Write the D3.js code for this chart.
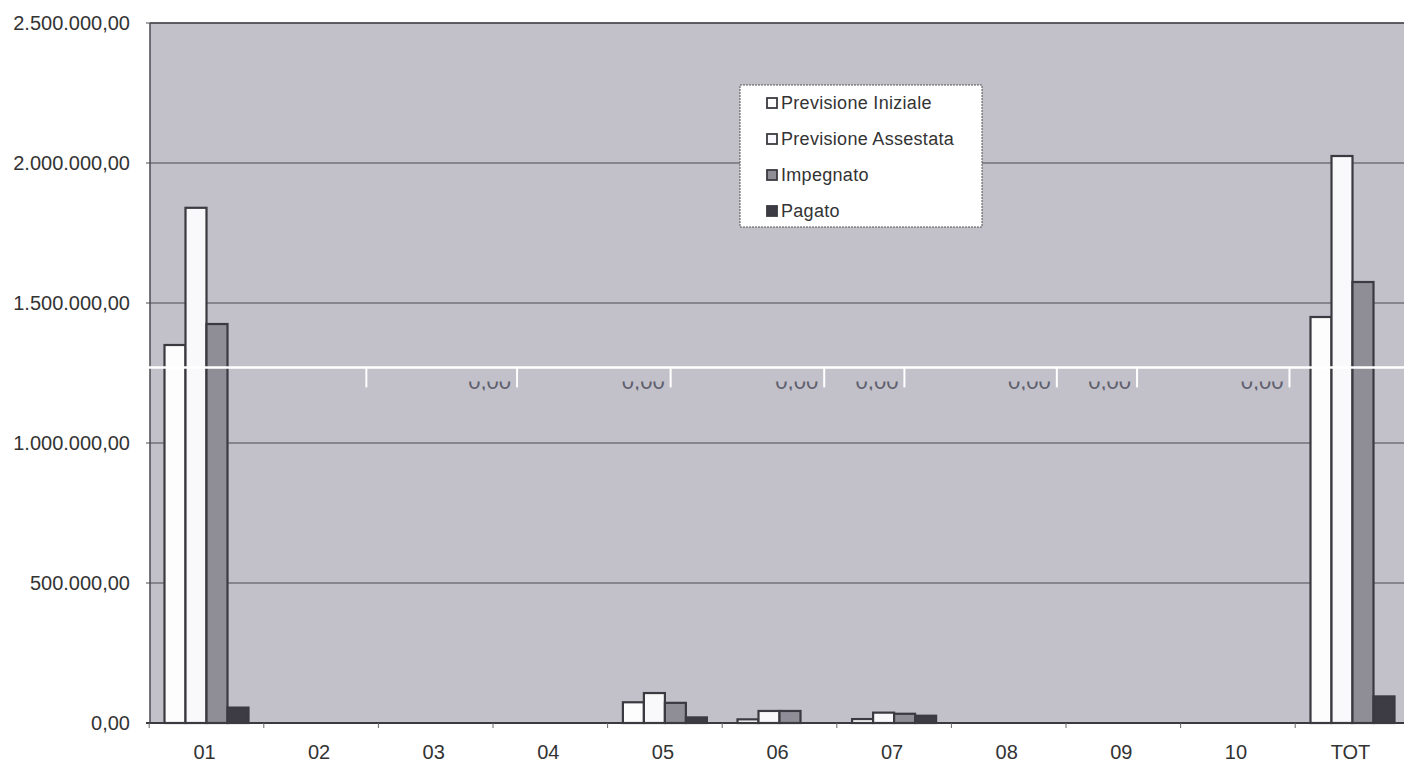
<!DOCTYPE html>
<html>
<head>
<meta charset="utf-8">
<script src="https://cdn.jsdelivr.net/npm/d3@7"></script>
<style>
  html, body { margin: 0; padding: 0; background: #ffffff; }
  svg { display: block; font-family: "Liberation Sans", Arial, sans-serif; }
</style>
</head>
<body>
<svg id="chart" width="1404" height="766"></svg>
<script>
// ---- data ----
const categories = ["01", "02", "03", "04", "05", "06", "07", "08", "09", "10", "TOT"];
const seriesNames = ["Previsione Iniziale", "Previsione Assestata", "Impegnato", "Pagato"];
const previsioneIniziale  = [1350000, 0, 0, 0, 74000, 13000, 14000, 0, 0, 0, 1450000];
const previsioneAssestata = [1840000, 0, 0, 0, 107000, 43000, 37000, 0, 0, 0, 2025000];
const impegnato           = [1425000, 0, 0, 0, 72000, 43000, 33000, 0, 0, 0, 1575000];
const pagato              = [55000, 0, 0, 0, 20000, 0, 26000, 0, 0, 0, 95000];
const yTicks = [0, 500000, 1000000, 1500000, 2000000, 2500000];
// scan artefact (white rule with ticks), positions in category steps
const overlayValue = 1270000;
const overlayTickSteps = [1.895, 3.21, 4.55, 5.89, 6.59, 7.92, 8.62, 9.95];

(function () {
const seriesValues = [previsioneIniziale, previsioneAssestata, impegnato, pagato];
const fills = ["#fdfdfd", "#f9f9fb", "#8f8e97", "#3d3c45"];

const svg = d3.select("#chart");
const pL = 150, pR = 1410, pT = 23, pB = 723;

const x0 = d3.scaleBand().domain(categories).range([149.2, 1409.8])
  .paddingInner(0.267).paddingOuter(0.1335);
const x1 = d3.scaleBand().domain(seriesNames).range([0, x0.bandwidth()]);
const y = d3.scaleLinear().domain([0, 2500000]).range([pB, pT]);

const it = d3.formatLocale({decimal: ",", thousands: ".", grouping: [3], currency: ["", "€"]});
const fmt = it.format(",.2f");

// plot background
svg.append("rect").attr("x", pL).attr("y", pT)
  .attr("width", pR - pL).attr("height", pB - pT)
  .attr("fill", "#c2c1ca");

// gridlines
svg.append("g").selectAll("line").data(yTicks.filter(d => d > 0)).join("line")
  .attr("x1", pL - 4).attr("x2", pR)
  .attr("y1", d => y(d)).attr("y2", d => y(d))
  .attr("stroke", "#4a4a50").attr("stroke-width", 1.2);

// y axis labels
svg.append("g").selectAll("text").data(yTicks).join("text")
  .attr("x", 130).attr("y", d => y(d))
  .attr("dy", "0.36em")
  .attr("text-anchor", "end")
  .attr("font-size", 20).attr("fill", "#333")
  .text(d => fmt(d));

// bars
const rows = categories.map((c, i) => ({cat: c, vals: seriesNames.map((s, j) => ({s, j, v: seriesValues[j][i]}))}));
const groups = svg.append("g").selectAll("g").data(rows).join("g")
  .attr("transform", d => `translate(${x0(d.cat)},0)`);
groups.selectAll("rect").data(d => d.vals.filter(e => e.v > 0)).join("rect")
  .attr("x", d => x1(d.s))
  .attr("y", d => y(d.v))
  .attr("width", x1.bandwidth())
  .attr("height", d => y(0) - y(d.v))
  .attr("fill", d => fills[d.j])
  .attr("stroke", "#3a3a40").attr("stroke-width", 2.2);

// borders
svg.append("line").attr("x1", pL).attr("x2", pR).attr("y1", pT).attr("y2", pT)
  .attr("stroke", "#4a4a50").attr("stroke-width", 1.5);
svg.append("line").attr("x1", pL).attr("x2", pL).attr("y1", pT).attr("y2", pB)
  .attr("stroke", "#4a4a50").attr("stroke-width", 1.5);
svg.append("line").attr("x1", pL - 4).attr("x2", pR).attr("y1", pB).attr("y2", pB)
  .attr("stroke", "#3a3a40").attr("stroke-width", 2);

// x ticks at band boundaries
const step = x0.step();
const x0start = x0.range()[0];
svg.append("g").selectAll("line").data(d3.range(categories.length)).join("line")
  .attr("x1", i => x0start + i * step).attr("x2", i => x0start + i * step)
  .attr("y1", pB).attr("y2", pB + 5)
  .attr("stroke", "#666").attr("stroke-width", 1);

// x labels
svg.append("g").selectAll("text").data(categories).join("text")
  .attr("x", d => x0(d) + x0.bandwidth() / 2 - 2)
  .attr("y", 759)
  .attr("text-anchor", "middle")
  .attr("font-size", 20).attr("fill", "#333")
  .text(d => d);

// scan artefact: white rule with ticks and clipped "0,00" fragments
const oy = y(overlayValue);
const art = svg.append("g");
svg.append("clipPath").attr("id", "fragClip").append("rect")
  .attr("x", 0).attr("y", oy + 14).attr("width", 1404).attr("height", 9);
art.append("line").attr("x1", pL - 4).attr("x2", 1404).attr("y1", oy).attr("y2", oy)
  .attr("stroke", "#ffffff").attr("stroke-width", 2.5);
art.selectAll("line.t").data(overlayTickSteps).join("line").attr("class", "t")
  .attr("x1", d => x0start + d * step).attr("x2", d => x0start + d * step)
  .attr("y1", oy).attr("y2", oy + 20)
  .attr("stroke", "#ffffff").attr("stroke-width", 2);
art.selectAll("text").data(overlayTickSteps.slice(1)).join("text")
  .attr("x", d => x0start + d * step - 6)
  .attr("y", oy + 22)
  .attr("text-anchor", "end")
  .attr("font-size", 22).attr("fill", "#5e5e6c")
  .attr("clip-path", "url(#fragClip)")
  .text("0,00");

// legend
const lg = svg.append("g").attr("transform", "translate(740,85)");
lg.append("rect").attr("width", 242).attr("height", 142)
  .attr("fill", "#ffffff").attr("stroke", "#555").attr("stroke-width", 1)
  .attr("stroke-dasharray", "2,1");
const li = lg.selectAll("g").data(seriesNames).join("g")
  .attr("transform", (d, i) => `translate(27,${18 + i * 36})`);
li.append("rect").attr("x", 0).attr("y", -5).attr("width", 10).attr("height", 10)
  .attr("fill", (d, i) => fills[i]).attr("stroke", "#3a3a40").attr("stroke-width", 1.8);
li.append("text").attr("x", 14).attr("y", 0).attr("dy", "0.36em")
  .attr("font-size", 18).attr("letter-spacing", 0.3).attr("fill", "#333")
  .text(d => d);
})();
</script>
</body>
</html>
